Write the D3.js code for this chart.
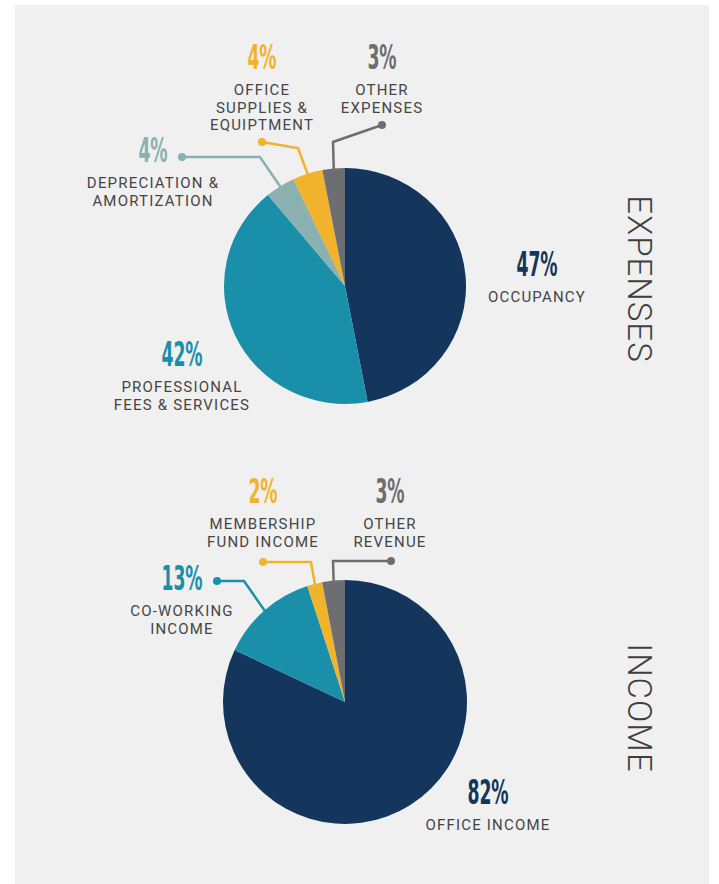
<!DOCTYPE html>
<html>
<head>
<meta charset="utf-8">
<script src="https://cdn.jsdelivr.net/npm/d3@7"></script>
<style>
    body { margin: 0; background: #fff; }
    .pct { font-family: 'Liberation Sans Narrow', 'DejaVu Sans Condensed', sans-serif; font-weight: bold; }
    .lbl { font-family: Roboto, sans-serif; font-size: 15px; fill: #454545; letter-spacing: 1.2px; }
    .title { font-family: Roboto, sans-serif; font-size: 33px; font-weight: 300; fill: #3f3f3f; letter-spacing: 1px; }
</style>
</head>
<body>
<div id="chart"></div>
<script>
// expenses
let expenseNames = ['OCCUPANCY', 'PROFESSIONAL|FEES & SERVICES', 'DEPRECIATION &|AMORTIZATION', 'OFFICE|SUPPLIES &|EQUIPTMENT', 'OTHER|EXPENSES']
let expenseValues = [47, 42, 4, 4, 3]
// income
let incomeNames = ['OFFICE INCOME', 'CO-WORKING|INCOME', 'MEMBERSHIP|FUND INCOME', 'OTHER|REVENUE']
let incomeValues = [82, 13, 2, 3]
let expenseColors = ['#14365c', '#1a8faa', '#8ab0b0', '#f1b32b', '#6d6e71']
let incomeColors = ['#14365c', '#1a8faa', '#f1b32b', '#6d6e71']

let svgWidth = 719
let svgHeight = 884

let svg = d3.select('#chart').append('svg')
    .attr('width', svgWidth)
    .attr('height', svgHeight)

svg.append('rect')
    .attr('x', 15)
    .attr('y', 5)
    .attr('width', 694)
    .attr('height', 879)
    .attr('fill', '#f0f0f0')

// label layout, relative to pie centre: pct = percent baseline, dot/elbow = leader line
let expenseLayout = [
    { pct: [192, -10] },
    { pct: [-163, 80] },
    { pct: [-192, -124], dot: [-163, -129], elbow: [-85, -129] },
    { pct: [-83, -217], dot: [-83, -144], elbow: [-47, -138] },
    { pct: [37, -217], dot: [37, -161], elbow: [-12, -144] }
]
let incomeLayout = [
    { pct: [143, 102] },
    { pct: [-163, -112], dot: [-128, -121], elbow: [-101, -121] },
    { pct: [-82, -199], dot: [-82, -140], elbow: [-34, -140] },
    { pct: [45, -199], dot: [46, -141], elbow: [-12, -141] }
]

// squash: the expenses pie in the source is a touch flatter than round
function drawPie(cx, cy, radius, squash, names, values, colors, layout, title, titleY) {
    let g = svg.append('g')
        .attr('transform', `translate(${cx}, ${cy})`)

    let pie = d3.pie().sort(null).value(d => d)
    let arcs = pie(values)
    let arc = d3.arc().innerRadius(0).outerRadius(radius)
    let edge = d3.arc().innerRadius(radius - 2).outerRadius(radius - 2)

    // leader lines under the pie
    arcs.forEach((d, i) => {
        let l = layout[i]
        if (!l.dot) return
        let e = edge.centroid(d)
        e = [e[0], e[1] * squash]
        g.append('polyline')
            .attr('points', [l.dot, l.elbow, e].map(p => p.join(',')).join(' '))
            .attr('fill', 'none')
            .attr('stroke', colors[i])
            .attr('stroke-width', 2.5)
        g.append('circle')
            .attr('cx', l.dot[0])
            .attr('cy', l.dot[1])
            .attr('r', 4)
            .attr('fill', colors[i])
    })

    g.append('g')
        .attr('transform', `scale(1, ${squash})`)
        .selectAll('path.slice')
        .data(arcs)
        .enter()
        .append('path')
        .attr('class', 'slice')
        .attr('d', arc)
        .attr('fill', (d, i) => colors[i])

    arcs.forEach((d, i) => {
        let l = layout[i]
        g.append('text')
            .attr('class', 'pct')
            .attr('transform', `translate(${l.pct[0]}, ${l.pct[1]}) scale(0.58, 1)`)
            .attr('text-anchor', 'middle')
            .attr('font-size', 33)
            .attr('fill', colors[i])
            .text(values[i] + '%')
        let t = g.append('text')
            .attr('class', 'lbl')
            .attr('text-anchor', 'middle')
        names[i].split('|').forEach((line, j) => {
            t.append('tspan')
                .attr('x', l.pct[0])
                .attr('y', l.pct[1] + 26 + j * 17.5)
                .text(line)
        })
    })

    svg.append('text')
        .attr('class', 'title')
        .attr('transform', `translate(628, ${titleY}) rotate(90)`)
        .attr('text-anchor', 'middle')
        .text(title)
}

drawPie(345, 286, 121, 0.975, expenseNames, expenseValues, expenseColors, expenseLayout, 'EXPENSES', 279)
drawPie(345, 702, 122, 1, incomeNames, incomeValues, incomeColors, incomeLayout, 'INCOME', 708)
</script>
</body>
</html>
